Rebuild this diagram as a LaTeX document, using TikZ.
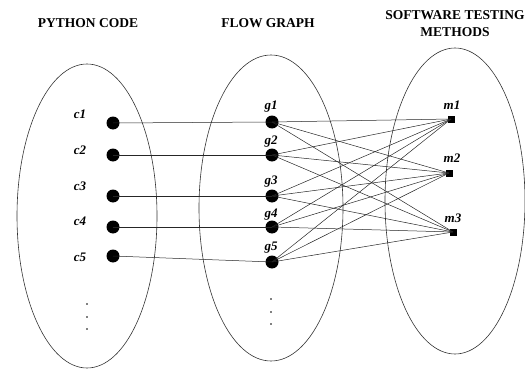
\documentclass[tikz,border=0pt]{standalone}
\usepackage{fontspec}
\setmainfont{Liberation Serif}
\begin{document}
\begin{tikzpicture}[x=1pt,y=-1pt,
  title/.style={font=\bfseries\fontsize{13.5}{17}\selectfont, align=center, inner sep=0pt},
  lab/.style={font=\bfseries\itshape\fontsize{13}{14}\selectfont, inner sep=0pt},
  dot/.style={circle, fill=black, minimum size=13pt, inner sep=0pt},
  sq/.style={rectangle, fill=black, minimum size=7pt, inner sep=0pt},
  tiny/.style={circle, fill=black, minimum size=1.6pt, inner sep=0pt},
  link/.style={line width=0.5pt, draw=black!85},
  oval/.style={line width=0.6pt, draw=black!80}]
\useasboundingbox (0,0) rectangle (525,369);
% ellipses
\draw[oval] (87,216) ellipse [x radius=70, y radius=152];
\draw[oval] (271,208) ellipse [x radius=72, y radius=153];
\draw[oval] (455,201) ellipse [x radius=70, y radius=153];
% titles
\node[title] (t1) at (88,23) {PYTHON CODE};
\node[title] (t2) at (268,23) {FLOW GRAPH};
\node[title] (t3) at (455,23.5) {SOFTWARE TESTING\\METHODS};
% c nodes
\node[dot] (c1) at (113,123) {};
\node[dot] (c2) at (113,155) {};
\node[dot] (c3) at (113,196) {};
\node[dot] (c4) at (113,227) {};
\node[dot] (c5) at (113,256) {};
\node[lab] (lc1) at (80,114) {c1};
\node[lab] (lc2) at (80,150) {c2};
\node[lab] (lc3) at (80,186) {c3};
\node[lab] (lc4) at (80,221) {c4};
\node[lab] (lc5) at (80,257) {c5};
\node[tiny] (cd1) at (87,304) {};
\node[tiny] (cd2) at (87,317) {};
\node[tiny] (cd3) at (87,329) {};
% g nodes
\node[dot] (g1) at (272,122) {};
\node[dot] (g2) at (272,155) {};
\node[dot] (g3) at (272,196) {};
\node[dot] (g4) at (272,227) {};
\node[dot] (g5) at (272,262) {};
\node[lab] (lg1) at (271,107) {g1};
\node[lab] (lg2) at (271,142) {g2};
\node[lab] (lg3) at (271,182) {g3};
\node[lab] (lg4) at (271,215) {g4};
\node[lab] (lg5) at (271,248) {g5};
\node[tiny] (gd1) at (271,299) {};
\node[tiny] (gd2) at (271,312) {};
\node[tiny] (gd3) at (271,324) {};
% m nodes
\node[sq] (m1) at (451,119) {};
\node[sq] (m2) at (449,173) {};
\node[sq] (m3) at (453,232) {};
\node[lab] (lm1) at (452,105) {m1};
\node[lab] (lm2) at (452,158) {m2};
\node[lab] (lm3) at (453,218) {m3};
% c to g
\foreach \i in {1,...,5} {
  \draw[link] (c\i.center) -- (g\i.center);
}
% g to m
\foreach \i in {1,...,5} {
  \foreach \j in {1,2,3} {
    \draw[link] (g\i.center) -- (m\j.center);
  }
}
\end{tikzpicture}
\end{document}
